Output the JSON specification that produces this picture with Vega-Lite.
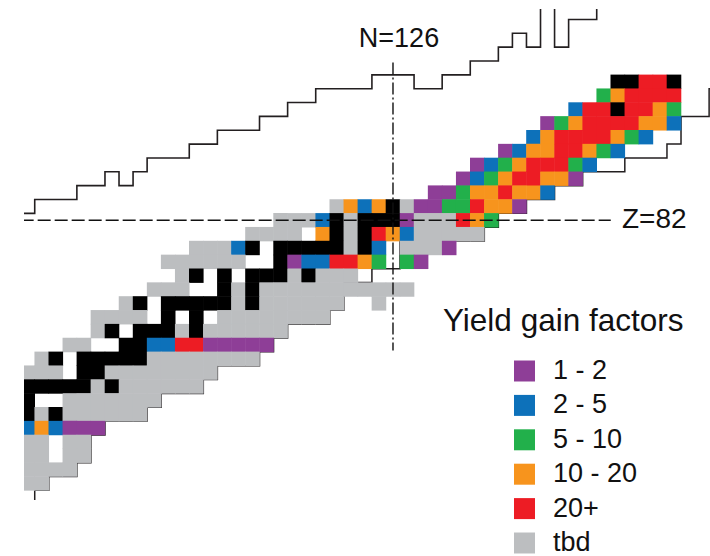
{
  "$schema": "https://vega.github.io/schema/vega-lite/v6.json",
  "width": 686,
  "height": 491,
  "autosize": "none",
  "padding": {"left": 24, "top": 9, "right": 0, "bottom": 56},
  "background": "white",
  "config": {"view": {"stroke": null}, "font": "Liberation Sans"},
  "datasets": {
    "cells": [
      {"N":142,"Z":92,"g":"stable"},{"N":143,"Z":92,"g":"stable"},{"N":144,"Z":92,"g":"20+"},{"N":145,"Z":92,"g":"20+"},{"N":146,"Z":92,"g":"stable"},
      {"N":141,"Z":91,"g":"5 - 10"},{"N":142,"Z":91,"g":"10 - 20"},{"N":143,"Z":91,"g":"20+"},{"N":144,"Z":91,"g":"20+"},{"N":145,"Z":91,"g":"20+"},{"N":146,"Z":91,"g":"20+"},
      {"N":139,"Z":90,"g":"2 - 5"},{"N":140,"Z":90,"g":"20+"},{"N":141,"Z":90,"g":"20+"},{"N":142,"Z":90,"g":"stable"},{"N":143,"Z":90,"g":"20+"},{"N":144,"Z":90,"g":"20+"},{"N":145,"Z":90,"g":"10 - 20"},{"N":146,"Z":90,"g":"5 - 10"},
      {"N":137,"Z":89,"g":"1 - 2"},{"N":138,"Z":89,"g":"5 - 10"},{"N":139,"Z":89,"g":"10 - 20"},{"N":140,"Z":89,"g":"20+"},{"N":141,"Z":89,"g":"20+"},{"N":142,"Z":89,"g":"20+"},{"N":143,"Z":89,"g":"20+"},{"N":144,"Z":89,"g":"10 - 20"},{"N":145,"Z":89,"g":"10 - 20"},{"N":146,"Z":89,"g":"2 - 5"},
      {"N":136,"Z":88,"g":"2 - 5"},{"N":137,"Z":88,"g":"10 - 20"},{"N":138,"Z":88,"g":"20+"},{"N":139,"Z":88,"g":"20+"},{"N":140,"Z":88,"g":"20+"},{"N":141,"Z":88,"g":"20+"},{"N":142,"Z":88,"g":"10 - 20"},{"N":143,"Z":88,"g":"5 - 10"},{"N":144,"Z":88,"g":"2 - 5"},
      {"N":134,"Z":87,"g":"1 - 2"},{"N":135,"Z":87,"g":"2 - 5"},{"N":136,"Z":87,"g":"10 - 20"},{"N":137,"Z":87,"g":"10 - 20"},{"N":138,"Z":87,"g":"20+"},{"N":139,"Z":87,"g":"20+"},{"N":140,"Z":87,"g":"10 - 20"},{"N":141,"Z":87,"g":"5 - 10"},{"N":142,"Z":87,"g":"2 - 5"},
      {"N":132,"Z":86,"g":"1 - 2"},{"N":133,"Z":86,"g":"2 - 5"},{"N":134,"Z":86,"g":"5 - 10"},{"N":135,"Z":86,"g":"10 - 20"},{"N":136,"Z":86,"g":"20+"},{"N":137,"Z":86,"g":"20+"},{"N":138,"Z":86,"g":"20+"},{"N":139,"Z":86,"g":"5 - 10"},{"N":140,"Z":86,"g":"2 - 5"},
      {"N":131,"Z":85,"g":"1 - 2"},{"N":132,"Z":85,"g":"2 - 5"},{"N":133,"Z":85,"g":"5 - 10"},{"N":134,"Z":85,"g":"10 - 20"},{"N":135,"Z":85,"g":"20+"},{"N":136,"Z":85,"g":"20+"},{"N":137,"Z":85,"g":"10 - 20"},{"N":138,"Z":85,"g":"10 - 20"},{"N":139,"Z":85,"g":"1 - 2"},
      {"N":129,"Z":84,"g":"1 - 2"},{"N":130,"Z":84,"g":"1 - 2"},{"N":131,"Z":84,"g":"5 - 10"},{"N":132,"Z":84,"g":"10 - 20"},{"N":133,"Z":84,"g":"10 - 20"},{"N":134,"Z":84,"g":"20+"},{"N":135,"Z":84,"g":"10 - 20"},{"N":136,"Z":84,"g":"10 - 20"},{"N":137,"Z":84,"g":"2 - 5"},
      {"N":122,"Z":83,"g":"tbd"},{"N":123,"Z":83,"g":"10 - 20"},{"N":124,"Z":83,"g":"2 - 5"},{"N":125,"Z":83,"g":"10 - 20"},{"N":126,"Z":83,"g":"stable"},{"N":127,"Z":83,"g":"tbd"},{"N":128,"Z":83,"g":"1 - 2"},{"N":129,"Z":83,"g":"1 - 2"},{"N":130,"Z":83,"g":"5 - 10"},{"N":131,"Z":83,"g":"5 - 10"},{"N":132,"Z":83,"g":"20+"},{"N":133,"Z":83,"g":"10 - 20"},{"N":134,"Z":83,"g":"10 - 20"},{"N":135,"Z":83,"g":"1 - 2"},
      {"N":118,"Z":82,"g":"tbd"},{"N":119,"Z":82,"g":"tbd"},{"N":120,"Z":82,"g":"tbd"},{"N":121,"Z":82,"g":"2 - 5"},{"N":122,"Z":82,"g":"stable"},{"N":123,"Z":82,"g":"tbd"},{"N":124,"Z":82,"g":"stable"},{"N":125,"Z":82,"g":"stable"},{"N":126,"Z":82,"g":"stable"},{"N":127,"Z":82,"g":"1 - 2"},{"N":128,"Z":82,"g":"tbd"},{"N":129,"Z":82,"g":"tbd"},{"N":130,"Z":82,"g":"tbd"},{"N":131,"Z":82,"g":"20+"},{"N":132,"Z":82,"g":"10 - 20"},{"N":133,"Z":82,"g":"5 - 10"},
      {"N":116,"Z":81,"g":"tbd"},{"N":117,"Z":81,"g":"tbd"},{"N":118,"Z":81,"g":"tbd"},{"N":119,"Z":81,"g":"tbd"},{"N":121,"Z":81,"g":"10 - 20"},{"N":122,"Z":81,"g":"stable"},{"N":123,"Z":81,"g":"tbd"},{"N":124,"Z":81,"g":"stable"},{"N":125,"Z":81,"g":"20+"},{"N":126,"Z":81,"g":"10 - 20"},{"N":127,"Z":81,"g":"2 - 5"},{"N":128,"Z":81,"g":"tbd"},{"N":129,"Z":81,"g":"tbd"},{"N":130,"Z":81,"g":"tbd"},{"N":131,"Z":81,"g":"tbd"},{"N":132,"Z":81,"g":"tbd"},
      {"N":112,"Z":80,"g":"tbd"},{"N":113,"Z":80,"g":"tbd"},{"N":114,"Z":80,"g":"tbd"},{"N":115,"Z":80,"g":"2 - 5"},{"N":116,"Z":80,"g":"stable"},{"N":118,"Z":80,"g":"stable"},{"N":119,"Z":80,"g":"stable"},{"N":120,"Z":80,"g":"stable"},{"N":121,"Z":80,"g":"stable"},{"N":122,"Z":80,"g":"stable"},{"N":123,"Z":80,"g":"tbd"},{"N":124,"Z":80,"g":"stable"},{"N":125,"Z":80,"g":"2 - 5"},{"N":127,"Z":80,"g":"tbd"},{"N":128,"Z":80,"g":"tbd"},{"N":129,"Z":80,"g":"tbd"},{"N":130,"Z":80,"g":"1 - 2"},
      {"N":110,"Z":79,"g":"tbd"},{"N":111,"Z":79,"g":"tbd"},{"N":112,"Z":79,"g":"tbd"},{"N":113,"Z":79,"g":"tbd"},{"N":114,"Z":79,"g":"tbd"},{"N":115,"Z":79,"g":"tbd"},{"N":118,"Z":79,"g":"stable"},{"N":119,"Z":79,"g":"1 - 2"},{"N":120,"Z":79,"g":"2 - 5"},{"N":121,"Z":79,"g":"2 - 5"},{"N":122,"Z":79,"g":"20+"},{"N":123,"Z":79,"g":"20+"},{"N":124,"Z":79,"g":"10 - 20"},{"N":125,"Z":79,"g":"5 - 10"},{"N":127,"Z":79,"g":"5 - 10"},{"N":128,"Z":79,"g":"1 - 2"},
      {"N":111,"Z":78,"g":"tbd"},{"N":112,"Z":78,"g":"stable"},{"N":114,"Z":78,"g":"stable"},{"N":116,"Z":78,"g":"stable"},{"N":117,"Z":78,"g":"stable"},{"N":118,"Z":78,"g":"stable"},{"N":119,"Z":78,"g":"tbd"},{"N":120,"Z":78,"g":"stable"},{"N":121,"Z":78,"g":"tbd"},{"N":122,"Z":78,"g":"tbd"},{"N":123,"Z":78,"g":"tbd"},
      {"N":109,"Z":77,"g":"tbd"},{"N":110,"Z":77,"g":"tbd"},{"N":111,"Z":77,"g":"tbd"},{"N":114,"Z":77,"g":"stable"},{"N":115,"Z":77,"g":"tbd"},{"N":116,"Z":77,"g":"stable"},{"N":117,"Z":77,"g":"tbd"},{"N":118,"Z":77,"g":"tbd"},{"N":119,"Z":77,"g":"tbd"},{"N":120,"Z":77,"g":"tbd"},{"N":121,"Z":77,"g":"tbd"},{"N":122,"Z":77,"g":"tbd"},{"N":123,"Z":77,"g":"tbd"},{"N":124,"Z":77,"g":"tbd"},{"N":125,"Z":77,"g":"tbd"},{"N":126,"Z":77,"g":"tbd"},{"N":127,"Z":77,"g":"tbd"},
      {"N":107,"Z":76,"g":"tbd"},{"N":108,"Z":76,"g":"stable"},{"N":110,"Z":76,"g":"stable"},{"N":111,"Z":76,"g":"stable"},{"N":112,"Z":76,"g":"stable"},{"N":113,"Z":76,"g":"stable"},{"N":114,"Z":76,"g":"stable"},{"N":115,"Z":76,"g":"tbd"},{"N":116,"Z":76,"g":"stable"},{"N":117,"Z":76,"g":"tbd"},{"N":118,"Z":76,"g":"tbd"},{"N":119,"Z":76,"g":"tbd"},{"N":120,"Z":76,"g":"tbd"},{"N":121,"Z":76,"g":"tbd"},{"N":122,"Z":76,"g":"tbd"},{"N":125,"Z":76,"g":"tbd"},
      {"N":105,"Z":75,"g":"tbd"},{"N":106,"Z":75,"g":"tbd"},{"N":107,"Z":75,"g":"tbd"},{"N":108,"Z":75,"g":"tbd"},{"N":110,"Z":75,"g":"stable"},{"N":112,"Z":75,"g":"stable"},{"N":114,"Z":75,"g":"tbd"},{"N":115,"Z":75,"g":"tbd"},{"N":116,"Z":75,"g":"tbd"},{"N":117,"Z":75,"g":"tbd"},{"N":118,"Z":75,"g":"tbd"},{"N":119,"Z":75,"g":"tbd"},{"N":120,"Z":75,"g":"tbd"},{"N":121,"Z":75,"g":"tbd"},
      {"N":105,"Z":74,"g":"tbd"},{"N":106,"Z":74,"g":"stable"},{"N":108,"Z":74,"g":"stable"},{"N":109,"Z":74,"g":"stable"},{"N":110,"Z":74,"g":"stable"},{"N":111,"Z":74,"g":"tbd"},{"N":112,"Z":74,"g":"stable"},{"N":113,"Z":74,"g":"tbd"},{"N":114,"Z":74,"g":"tbd"},{"N":115,"Z":74,"g":"tbd"},{"N":116,"Z":74,"g":"tbd"},{"N":117,"Z":74,"g":"tbd"},{"N":118,"Z":74,"g":"tbd"},
      {"N":103,"Z":73,"g":"tbd"},{"N":104,"Z":73,"g":"tbd"},{"N":107,"Z":73,"g":"stable"},{"N":108,"Z":73,"g":"stable"},{"N":109,"Z":73,"g":"2 - 5"},{"N":110,"Z":73,"g":"2 - 5"},{"N":111,"Z":73,"g":"20+"},{"N":112,"Z":73,"g":"20+"},{"N":113,"Z":73,"g":"1 - 2"},{"N":114,"Z":73,"g":"1 - 2"},{"N":115,"Z":73,"g":"1 - 2"},{"N":116,"Z":73,"g":"1 - 2"},{"N":117,"Z":73,"g":"1 - 2"},
      {"N":101,"Z":72,"g":"tbd"},{"N":102,"Z":72,"g":"stable"},{"N":104,"Z":72,"g":"stable"},{"N":105,"Z":72,"g":"stable"},{"N":106,"Z":72,"g":"stable"},{"N":107,"Z":72,"g":"stable"},{"N":108,"Z":72,"g":"stable"},{"N":109,"Z":72,"g":"tbd"},{"N":110,"Z":72,"g":"tbd"},{"N":111,"Z":72,"g":"tbd"},{"N":112,"Z":72,"g":"tbd"},{"N":113,"Z":72,"g":"tbd"},{"N":114,"Z":72,"g":"tbd"},{"N":115,"Z":72,"g":"tbd"},{"N":116,"Z":72,"g":"tbd"},
      {"N":100,"Z":71,"g":"tbd"},{"N":101,"Z":71,"g":"tbd"},{"N":102,"Z":71,"g":"tbd"},{"N":104,"Z":71,"g":"stable"},{"N":105,"Z":71,"g":"stable"},{"N":106,"Z":71,"g":"tbd"},{"N":107,"Z":71,"g":"tbd"},{"N":108,"Z":71,"g":"tbd"},{"N":109,"Z":71,"g":"tbd"},{"N":110,"Z":71,"g":"tbd"},{"N":111,"Z":71,"g":"tbd"},{"N":112,"Z":71,"g":"tbd"},{"N":113,"Z":71,"g":"tbd"},
      {"N":100,"Z":70,"g":"stable"},{"N":101,"Z":70,"g":"stable"},{"N":102,"Z":70,"g":"stable"},{"N":103,"Z":70,"g":"stable"},{"N":104,"Z":70,"g":"stable"},{"N":105,"Z":70,"g":"tbd"},{"N":106,"Z":70,"g":"stable"},{"N":107,"Z":70,"g":"tbd"},{"N":108,"Z":70,"g":"tbd"},{"N":109,"Z":70,"g":"tbd"},{"N":110,"Z":70,"g":"tbd"},{"N":111,"Z":70,"g":"tbd"},{"N":112,"Z":70,"g":"tbd"},
      {"N":100,"Z":69,"g":"stable"},{"N":103,"Z":69,"g":"tbd"},{"N":104,"Z":69,"g":"tbd"},{"N":105,"Z":69,"g":"tbd"},{"N":106,"Z":69,"g":"tbd"},{"N":107,"Z":69,"g":"tbd"},{"N":108,"Z":69,"g":"tbd"},{"N":109,"Z":69,"g":"tbd"},
      {"N":100,"Z":68,"g":"stable"},{"N":101,"Z":68,"g":"tbd"},{"N":102,"Z":68,"g":"stable"},{"N":103,"Z":68,"g":"tbd"},{"N":104,"Z":68,"g":"tbd"},{"N":105,"Z":68,"g":"tbd"},{"N":106,"Z":68,"g":"tbd"},{"N":107,"Z":68,"g":"tbd"},{"N":108,"Z":68,"g":"tbd"},
      {"N":100,"Z":67,"g":"2 - 5"},{"N":101,"Z":67,"g":"10 - 20"},{"N":102,"Z":67,"g":"2 - 5"},{"N":103,"Z":67,"g":"1 - 2"},{"N":104,"Z":67,"g":"1 - 2"},{"N":105,"Z":67,"g":"1 - 2"},
      {"N":100,"Z":66,"g":"tbd"},{"N":101,"Z":66,"g":"tbd"},{"N":103,"Z":66,"g":"tbd"},{"N":104,"Z":66,"g":"tbd"},
      {"N":100,"Z":65,"g":"tbd"},{"N":101,"Z":65,"g":"tbd"},{"N":103,"Z":65,"g":"tbd"},{"N":104,"Z":65,"g":"tbd"},
      {"N":100,"Z":64,"g":"tbd"},{"N":101,"Z":64,"g":"tbd"},{"N":102,"Z":64,"g":"tbd"},{"N":103,"Z":64,"g":"tbd"},
      {"N":100,"Z":63,"g":"tbd"},{"N":101,"Z":63,"g":"tbd"}
    ],
    "upperEdge": [
      {"i":0,"N":99,"Z":82.5},{"i":1,"N":100.5,"Z":82.5},{"i":2,"N":100.5,"Z":83.5},{"i":3,"N":103.5,"Z":83.5},{"i":4,"N":103.5,"Z":84.5},{"i":5,"N":105.5,"Z":84.5},{"i":6,"N":105.5,"Z":85.5},{"i":7,"N":106.5,"Z":85.5},{"i":8,"N":106.5,"Z":84.5},{"i":9,"N":107.5,"Z":84.5},{"i":10,"N":107.5,"Z":85.5},{"i":11,"N":108.5,"Z":85.5},{"i":12,"N":108.5,"Z":86.5},{"i":13,"N":111.5,"Z":86.5},{"i":14,"N":111.5,"Z":87.5},{"i":15,"N":113.5,"Z":87.5},{"i":16,"N":113.5,"Z":88.5},{"i":17,"N":116.5,"Z":88.5},{"i":18,"N":116.5,"Z":89.5},{"i":19,"N":118.5,"Z":89.5},{"i":20,"N":118.5,"Z":90.5},{"i":21,"N":120.5,"Z":90.5},{"i":22,"N":120.5,"Z":91.5},{"i":23,"N":124.5,"Z":91.5},{"i":24,"N":124.5,"Z":92.5},{"i":25,"N":127.5,"Z":92.5},{"i":26,"N":127.5,"Z":91.5},{"i":27,"N":129.5,"Z":91.5},{"i":28,"N":129.5,"Z":92.5},{"i":29,"N":131.5,"Z":92.5},{"i":30,"N":131.5,"Z":93.5},{"i":31,"N":133.5,"Z":93.5},{"i":32,"N":133.5,"Z":94.5},{"i":33,"N":134.5,"Z":94.5},{"i":34,"N":134.5,"Z":95.5},{"i":35,"N":135.5,"Z":95.5},{"i":36,"N":135.5,"Z":94.5},{"i":37,"N":136.5,"Z":94.5},{"i":38,"N":136.5,"Z":99},{"i":39,"N":137.5,"Z":99},{"i":40,"N":137.5,"Z":94.5},{"i":41,"N":138.5,"Z":94.5},{"i":42,"N":138.5,"Z":96.5},{"i":43,"N":140.5,"Z":96.5},{"i":44,"N":140.5,"Z":99}
    ],
    "lowerEdge": [
      {"i":0,"N":150,"Z":91.5},{"i":1,"N":148.5,"Z":91.5},{"i":2,"N":148.5,"Z":89.5},{"i":3,"N":146.5,"Z":89.5},{"i":4,"N":146.5,"Z":87.5},{"i":5,"N":145.5,"Z":87.5},{"i":6,"N":145.5,"Z":86.5},{"i":7,"N":142.5,"Z":86.5},{"i":8,"N":142.5,"Z":85.5},{"i":9,"N":139.5,"Z":85.5},{"i":10,"N":139.5,"Z":84.5},{"i":11,"N":137.5,"Z":84.5},{"i":12,"N":137.5,"Z":83.5},{"i":13,"N":135.5,"Z":83.5},{"i":14,"N":135.5,"Z":82.5},{"i":15,"N":133.5,"Z":82.5},{"i":16,"N":133.5,"Z":81.5},{"i":17,"N":132.5,"Z":81.5},{"i":18,"N":132.5,"Z":80.5},{"i":19,"N":126.5,"Z":80.5},{"i":20,"N":126.5,"Z":78.5},{"i":21,"N":124.5,"Z":78.5},{"i":22,"N":124.5,"Z":77.5},{"i":23,"N":122.5,"Z":77.5},{"i":24,"N":122.5,"Z":75.5},{"i":25,"N":121.5,"Z":75.5},{"i":26,"N":121.5,"Z":74.5},{"i":27,"N":118.5,"Z":74.5},{"i":28,"N":118.5,"Z":73.5},{"i":29,"N":117.5,"Z":73.5},{"i":30,"N":117.5,"Z":72.5},{"i":31,"N":116.5,"Z":72.5},{"i":32,"N":116.5,"Z":71.5},{"i":33,"N":113.5,"Z":71.5},{"i":34,"N":113.5,"Z":70.5},{"i":35,"N":112.5,"Z":70.5},{"i":36,"N":112.5,"Z":69.5},{"i":37,"N":109.5,"Z":69.5},{"i":38,"N":109.5,"Z":68.5},{"i":39,"N":108.5,"Z":68.5},{"i":40,"N":108.5,"Z":67.5},{"i":41,"N":105.5,"Z":67.5},{"i":42,"N":105.5,"Z":66.5},{"i":43,"N":104.5,"Z":66.5},{"i":44,"N":104.5,"Z":64.5},{"i":45,"N":103.5,"Z":64.5},{"i":46,"N":103.5,"Z":63.5},{"i":47,"N":101.5,"Z":63.5},{"i":48,"N":101.5,"Z":62.5},{"i":49,"N":100.5,"Z":62.5},{"i":50,"N":100.5,"Z":61}
    ],
    "magicZ": [{"N":99.5,"N2":141.5,"Z":82,"label":"Z=82","LN":142.3}],
    "magicN": [{"N":126,"Z":93.4,"Z2":72.6,"label":"N=126","LZ":94.5}]
  },
  "layer": [
    {
      "data": {"name": "lowerEdge"},
      "mark": {"type": "line", "interpolate": "linear", "stroke": "#231F20", "strokeWidth": 1.5, "clip": true},
      "encoding": {
        "x": {"field": "N", "type": "quantitative", "scale": {"domain": [99.737, 148.563], "nice": false, "zero": false}, "axis": null},
        "y": {"field": "Z", "type": "quantitative", "scale": {"domain": [61.805, 97.256], "nice": false, "zero": false}, "axis": null},
        "order": {"field": "i", "type": "quantitative"}
      }
    },
    {
      "data": {"name": "cells"},
      "mark": {"type": "rect", "width": 14.6, "height": 14.4, "clip": true},
      "encoding": {
        "x": {"field": "N", "type": "quantitative"},
        "y": {"field": "Z", "type": "quantitative"},
        "color": {
          "field": "g",
          "type": "nominal",
          "scale": {
            "domain": ["1 - 2", "2 - 5", "5 - 10", "10 - 20", "20+", "tbd", "stable"],
            "range": ["#8E3E97", "#0D71BA", "#22B04B", "#F7941D", "#ED1C24", "#BCBEC0", "#000000"]
          },
          "legend": {
            "title": "Yield gain factors",
            "values": ["1 - 2", "2 - 5", "5 - 10", "10 - 20", "20+", "tbd"],
            "orient": "none",
            "legendX": 419,
            "legendY": 297,
            "padding": 0,
            "symbolType": "square",
            "symbolSize": 441,
            "symbolStrokeWidth": 0,
            "symbolOffset": 68,
            "labelOffset": 15,
            "labelFont": "Liberation Sans",
            "labelFontSize": 27,
            "labelColor": "#111111",
            "labelLimit": 0,
            "titleFont": "Liberation Sans",
            "titleFontSize": 31.5,
            "titleFontWeight": "normal",
            "titleColor": "#111111",
            "titlePadding": 20,
            "titleLimit": 0,
            "rowPadding": 6.4
          }
        }
      }
    },
    {
      "data": {"name": "upperEdge"},
      "mark": {"type": "line", "interpolate": "linear", "stroke": "#231F20", "strokeWidth": 1.6, "clip": true},
      "encoding": {
        "x": {"field": "N", "type": "quantitative"},
        "y": {"field": "Z", "type": "quantitative"},
        "order": {"field": "i", "type": "quantitative"}
      }
    },
    {
      "data": {"name": "magicZ"},
      "mark": {"type": "rule", "stroke": "#111111", "strokeWidth": 1.4, "strokeDash": [13, 4], "clip": true},
      "encoding": {
        "x": {"field": "N", "type": "quantitative"},
        "x2": {"field": "N2"},
        "y": {"field": "Z", "type": "quantitative"}
      }
    },
    {
      "data": {"name": "magicN"},
      "mark": {"type": "rule", "stroke": "#111111", "strokeWidth": 1.4, "strokeDash": [12, 3, 2, 3], "clip": true},
      "encoding": {
        "x": {"field": "N", "type": "quantitative"},
        "y": {"field": "Z", "type": "quantitative"},
        "y2": {"field": "Z2"}
      }
    },
    {
      "data": {"name": "magicZ"},
      "mark": {"type": "text", "align": "left", "baseline": "alphabetic", "dy": 8, "fontSize": 28, "font": "Liberation Sans", "color": "#111111"},
      "encoding": {
        "x": {"field": "LN", "type": "quantitative"},
        "y": {"field": "Z", "type": "quantitative"},
        "text": {"field": "label"}
      }
    },
    {
      "data": {"name": "magicN"},
      "mark": {"type": "text", "align": "center", "baseline": "alphabetic", "dx": 6, "fontSize": 27, "font": "Liberation Sans", "color": "#111111"},
      "encoding": {
        "x": {"field": "N", "type": "quantitative"},
        "y": {"field": "LZ", "type": "quantitative"},
        "text": {"field": "label"}
      }
    }
  ]
}
